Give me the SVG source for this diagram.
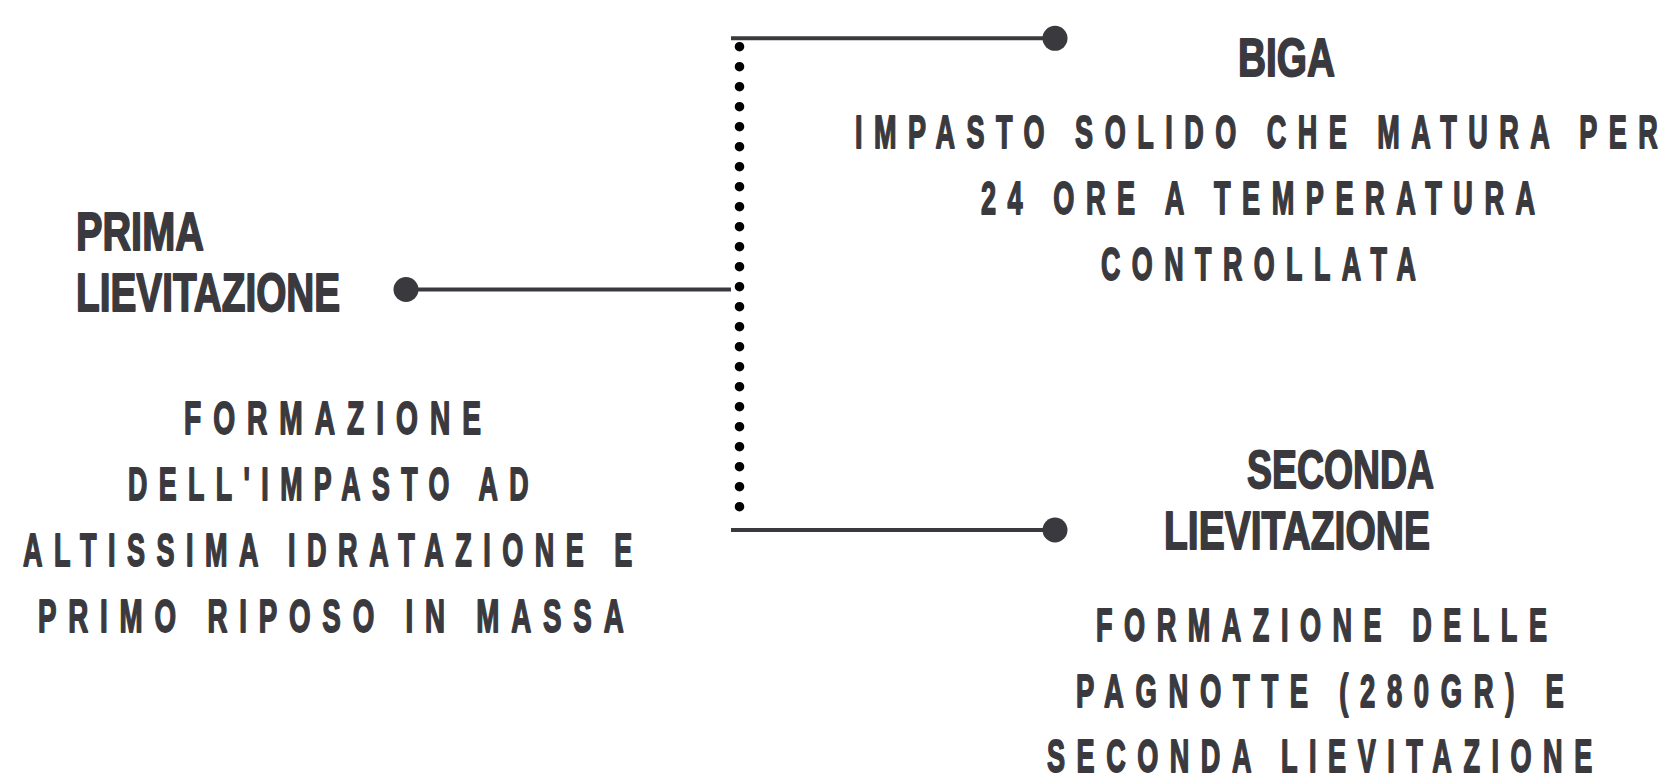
<svg xmlns="http://www.w3.org/2000/svg" width="1676" height="775" viewBox="0 0 1676 775">
<style>
  .bg { fill: #ffffff; }
  .title { font-family: "Liberation Sans", Arial, sans-serif; font-weight: bold; font-size: 54px; fill: #3a393e; stroke: #3a393e; stroke-width: 1.8; stroke-linejoin: round; }
  .body { font-family: "Liberation Sans", Arial, sans-serif; font-weight: bold; font-size: 47px; letter-spacing: 20px; fill: #3a393e; stroke: #3a393e; stroke-width: 1.8; stroke-linejoin: round; }
  .wire { stroke: #3a393e; stroke-width: 4; fill: none; }
  .knob { fill: #3a393e; }
  .dots { stroke: #000000; stroke-width: 9.6; stroke-linecap: round; stroke-dasharray: 0 20; fill: none; }
</style>
<rect class="bg" x="0" y="0" width="1676" height="775"/>
<g id="connectors">
  <line class="dots" x1="739.5" y1="46.7" x2="739.5" y2="507"/>
  <line class="wire" x1="731" y1="38.3" x2="1055" y2="38.3"/>
  <circle class="knob" cx="1055" cy="38.3" r="12.5"/>
  <line class="wire" x1="406" y1="289.5" x2="731" y2="289.5"/>
  <circle class="knob" cx="406" cy="289.5" r="12.5"/>
  <line class="wire" x1="731" y1="530" x2="1055" y2="530"/>
  <circle class="knob" cx="1055" cy="530" r="12.5"/>
</g>
<g id="node-prima">
  <text class="title" transform="translate(76 250) scale(0.735 1)">PRIMA</text>
  <text class="title" transform="translate(76 311) scale(0.718 1)">LIEVITAZIONE</text>
  <text class="body" transform="translate(184 434) scale(0.599 1)">FORMAZIONE</text>
  <text class="body" transform="translate(128 500) scale(0.570 1)">DELL'IMPASTO AD</text>
  <text class="body" transform="translate(23 566) scale(0.575 1)">ALTISSIMA IDRATAZIONE E</text>
  <text class="body" transform="translate(38 632) scale(0.590 1)">PRIMO RIPOSO IN MASSA</text>
</g>
<g id="node-biga">
  <text class="title" transform="translate(1238 76) scale(0.718 1)">BIGA</text>
  <text class="body" transform="translate(855 148) scale(0.575 1)">IMPASTO SOLIDO CHE MATURA PER</text>
  <text class="body" transform="translate(981 214) scale(0.577 1)">24 ORE A TEMPERATURA</text>
  <text class="body" transform="translate(1101 280) scale(0.572 1)">CONTROLLATA</text>
</g>
<g id="node-seconda">
  <text class="title" transform="translate(1247 488) scale(0.693 1)">SECONDA</text>
  <text class="title" transform="translate(1164 549) scale(0.723 1)">LIEVITAZIONE</text>
  <text class="body" transform="translate(1096 641) scale(0.576 1)">FORMAZIONE DELLE</text>
  <text class="body" transform="translate(1076 707) scale(0.584 1)">PAGNOTTE (280GR) E</text>
  <text class="body" transform="translate(1047 771.5) scale(0.576 1)">SECONDA LIEVITAZIONE</text>
</g>
</svg>
